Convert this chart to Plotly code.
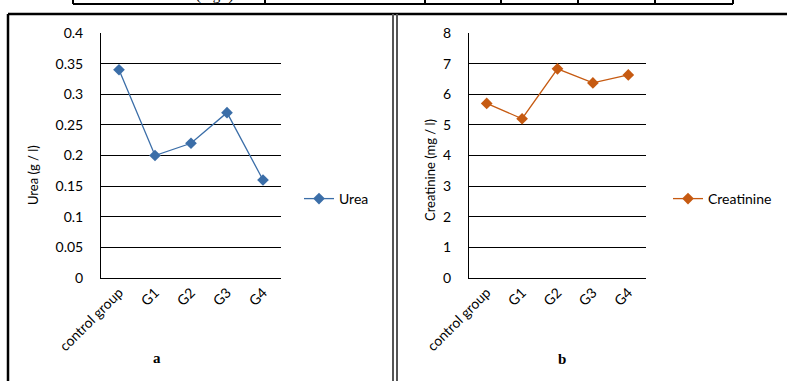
import plotly.graph_objects as go

categories = ["control group", "G1", "G2", "G3", "G4"]
urea = [0.34, 0.20, 0.22, 0.27, 0.16]
creatinine = [5.70, 5.20, 6.83, 6.37, 6.63]
urea_ticks = [0, 0.05, 0.1, 0.15, 0.2, 0.25, 0.3, 0.35, 0.4]
creat_ticks = [0, 1, 2, 3, 4, 5, 6, 7, 8]

W, H = 787, 381
def px(x): return x / W
def py(y): return 1 - y / H

BLUE = "#3b6ea8"
ORANGE = "#c65a11"
FONT = "Lato"

fig = go.Figure()
fig.add_trace(go.Scatter(x=categories, y=urea, name="Urea", mode="lines+markers",
                         line=dict(color=BLUE, width=1.3),
                         marker=dict(symbol="diamond", size=9, color=BLUE),
                         xaxis="x", yaxis="y", legend="legend"))
fig.add_trace(go.Scatter(x=categories, y=creatinine, name="Creatinine", mode="lines+markers",
                         line=dict(color=ORANGE, width=1.3),
                         marker=dict(symbol="diamond", size=9, color=ORANGE),
                         xaxis="x2", yaxis="y2", legend="legend2"))

ax_common = dict(showgrid=False, showline=True, linecolor="black", linewidth=1,
                 ticks="", tickangle=-45, tickfont=dict(family=FONT, size=14, color="black"),
                 range=[-0.5, 4.5], fixedrange=True, automargin=False)
y_common = dict(showgrid=True, gridcolor="black", gridwidth=1, showline=True,
                linecolor="black", linewidth=1, ticks="", zeroline=False, automargin=False,
                tickfont=dict(family=FONT, size=14, color="black"), ticklabelstandoff=14,
                fixedrange=True)

fig.update_layout(
    width=W, height=H, margin=dict(l=0, r=0, t=0, b=0, autoexpand=False),
    paper_bgcolor="white", plot_bgcolor="white",
    xaxis=dict(domain=[px(101), px(281)], anchor="y", **ax_common),
    yaxis=dict(domain=[py(278), py(33)], anchor="x", range=[0, 0.4],
               tickvals=urea_ticks, ticktext=[("%g" % v) for v in urea_ticks], **y_common),
    xaxis2=dict(domain=[px(469), px(646)], anchor="y2", **ax_common),
    yaxis2=dict(domain=[py(278), py(33)], anchor="x2", range=[0, 8],
                tickvals=creat_ticks, ticktext=[str(v) for v in creat_ticks], **y_common),
    legend=dict(x=px(299), y=py(199), xanchor="left", yanchor="middle",
                font=dict(family=FONT, size=14, color="black"), bgcolor="rgba(0,0,0,0)",
                itemwidth=30),
    legend2=dict(x=px(668), y=py(199), xanchor="left", yanchor="middle",
                 font=dict(family=FONT, size=14, color="black"), bgcolor="rgba(0,0,0,0)",
                 itemwidth=30),
    showlegend=True,
)

def ann(text, x, y, size=14, family=FONT, angle=0):
    fig.add_annotation(text=text, x=px(x), y=py(y), xref="paper", yref="paper",
                       xanchor="center", yanchor="middle", showarrow=False, textangle=angle,
                       font=dict(family=family, size=size, color="black"))

ann("Urea (g / l)", 33, 175, size=13, angle=-90)
ann("Creatinine (mg / l)", 430, 170, size=13, angle=-90)
ann("<b>a</b>", 157, 358, size=15, family="Liberation Serif")
ann("<b>b</b>", 562, 359, size=15, family="Liberation Serif")
ann("(mg/l)", 215, -5, size=15, family="Liberation Serif")

shapes = []
def line(x0, y0, x1, y1, w=1, c="black"):
    shapes.append(dict(type="line", xref="paper", yref="paper", x0=px(x0), y0=py(y0),
                       x1=px(x1), y1=py(y1), line=dict(color=c, width=w)))
# top table row
line(73, 4, 733, 4, 2)
line(73, 0, 73, 4, 2)
for xv in [265, 425, 501, 578, 655, 733]:
    line(xv, 0, xv, 4, 2)
# panel borders
line(8, 14, 787, 14, 2.5)
line(8, 14, 8, 381, 2.5)
line(393, 14, 393, 381, 2, "#555555")
line(397, 14, 397, 381, 2, "#555555")
fig.update_layout(shapes=shapes)

fig.write_html("out.html", config={"displayModeBar": False},
               post_script="document.body.style.margin='0';")
